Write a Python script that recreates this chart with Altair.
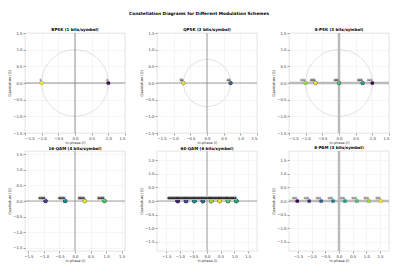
import altair as alt
import pandas as pd

# ---- data ----
bpsk_i = [1.0, -1.0]
bpsk_bits = ["0", "1"]

qpsk_i = [0.707, 0.707, -0.707, -0.707]
qpsk_bits = ["00", "01", "10", "11"]

psk8_i = [1.0, 0.707, -0.707, 0.0, 0.707, 0.0, -1.0, -0.707]
psk8_bits = ["000", "001", "010", "011", "100", "101", "110", "111"]

qam16_i = [-0.949, -0.949, -0.949, -0.949,
           -0.316, -0.316, -0.316, -0.316,
           0.949, 0.949, 0.949, 0.949,
           0.316, 0.316, 0.316, 0.316]
qam16_bits = [format(v, "04b") for v in range(16)]

qam64_i = ([-1.080] * 8 + [-0.772] * 8 + [-0.154] * 8 + [-0.463] * 8
           + [1.080] * 8 + [0.772] * 8 + [0.154] * 8 + [0.463] * 8)
qam64_bits = [format(v, "06b") for v in range(64)]

pam8_i = [-1.528, -1.091, -0.655, -0.218, 0.218, 0.655, 1.091, 1.528]
pam8_bits = ["000", "001", "010", "011", "100", "101", "110", "111"]

titles = ["BPSK (1 bits/symbol)", "QPSK (2 bits/symbol)", "8-PSK (3 bits/symbol)",
          "16-QAM (4 bits/symbol)", "64-QAM (6 bits/symbol)", "8-PAM (3 bits/symbol)"]
limits = [1.5, 1.5, 1.5, 1.61, 1.84, 1.83]
circle_r = [1.0, 0.707, 1.0, None, None, None]
rule_style = [("#777777", 0.8), ("#888888", 0.8), ("#bbbbbb", 2.5),
              ("#888888", 0.8), ("#888888", 0.8), ("#bbbbbb", 2.5)]
tick_vals = [-1.5, -1.0, -0.5, 0.0, 0.5, 1.0, 1.5]

FONT = "DejaVu Sans"


def panel(k, i_vals, bits):
    n = len(i_vals)
    lim = limits[k]
    df = pd.DataFrame({"I": i_vals, "Q": [0.0] * n, "bits": bits, "idx": list(range(n))})
    xs = alt.X("I:Q", scale=alt.Scale(domain=[-lim, lim], nice=False, zero=False),
               axis=alt.Axis(values=tick_vals, format=".1f", title="In-phase (I)"))
    ys = alt.Y("Q:Q", scale=alt.Scale(domain=[-lim, lim], nice=False, zero=False),
               axis=alt.Axis(values=tick_vals, format=".1f", title="Quadrature (Q)"))
    layers = []
    if circle_r[k] is not None:
        r = circle_r[k]
        circ = alt.Chart(alt.sequence(0, 365, 5, as_="t")).transform_calculate(
            I=f"{r}*cos(datum.t*PI/180)", Q=f"{r}*sin(datum.t*PI/180)"
        ).mark_line(color="#cccccc", strokeWidth=0.6).encode(x=xs, y=ys, order="t:Q")
        layers.append(circ)
    col, w = rule_style[k]
    vrule = alt.Chart(pd.DataFrame({"I": [0.0]})).mark_rule(color=col, strokeWidth=w).encode(x=xs)
    hrule = alt.Chart(pd.DataFrame({"Q": [0.0]})).mark_rule(color=col, strokeWidth=w).encode(y=ys)
    layers += [vrule, hrule]
    base = alt.Chart(df)
    pts = base.mark_circle(size=14, opacity=1, stroke="#333333", strokeWidth=0.2).encode(
        x=xs, y=ys,
        color=alt.Color("idx:Q", scale=alt.Scale(scheme="viridis", domain=[0, n - 1]), legend=None),
    )
    lbl_bg = base.mark_text(align="right", baseline="bottom", dx=-0.3, dy=-0.5, fontSize=2.5,
                            font=FONT, color="#aaaaaa", stroke="#bbbbbb", strokeWidth=1.1,
                            opacity=0.8).encode(x=xs, y=ys, text="bits:N")
    lbl = base.mark_text(align="right", baseline="bottom", dx=-0.3, dy=-0.5, fontSize=2.5,
                         font=FONT, color="#222222").encode(x=xs, y=ys, text="bits:N")
    layers += [pts, lbl_bg, lbl]
    return alt.layer(*layers).properties(
        width=100, height=100,
        title=alt.TitleParams(titles[k], fontSize=4.0, fontWeight="bold", font=FONT, offset=-0.5),
    )


panels = [panel(0, bpsk_i, bpsk_bits), panel(1, qpsk_i, qpsk_bits), panel(2, psk8_i, psk8_bits),
          panel(3, qam16_i, qam16_bits), panel(4, qam64_i, qam64_bits), panel(5, pam8_i, pam8_bits)]

chart = alt.concat(*panels, columns=3, spacing={"row": 18, "column": 32}, bounds="flush").resolve_scale(
    color="independent"
).properties(
    title=alt.TitleParams("Constellation Diagrams for Different Modulation Schemes",
                          fontSize=4.3, fontWeight="bold", font=FONT, anchor="middle", offset=11),
    padding={"left": 7, "top": 11, "right": 5, "bottom": 5},
    background="white",
).configure_view(
    stroke="#d0d0d0", strokeWidth=0.6
).configure_axis(
    grid=True, gridColor="#ebebeb", gridWidth=0.5, domain=False,
    tickSize=2, tickWidth=0.5, tickColor="#444444",
    labelFontSize=3.8, labelColor="#333333", labelFont=FONT, labelPadding=1,
    titleFontSize=3.5, titleFontWeight="normal", titleColor="#333333", titleFont=FONT, titlePadding=1,
)

chart.save("out.html", embed_options={"renderer": "svg", "actions": False})
